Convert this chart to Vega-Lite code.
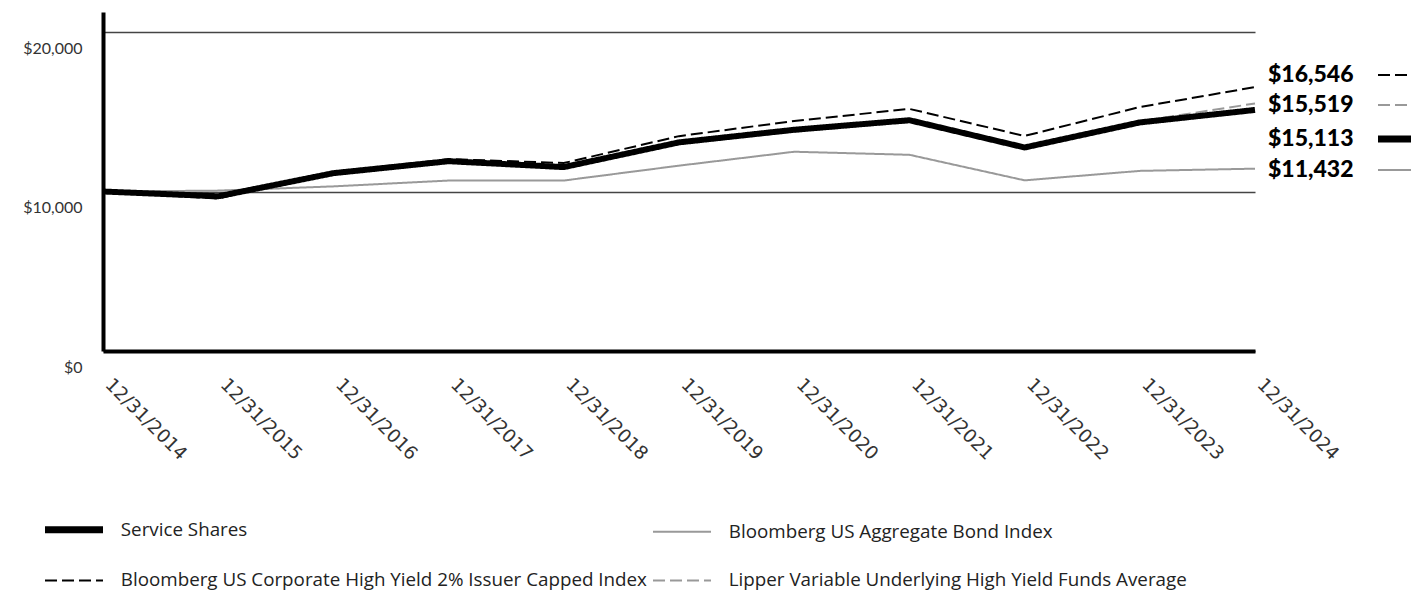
{
  "$schema": "https://vega.github.io/schema/vega-lite/v6.json",
  "width": 1152,
  "height": 339,
  "autosize": {"type": "none"},
  "padding": {"left": 103, "top": 12, "right": 156, "bottom": 241},
  "background": "white",
  "config": {
    "view": {"stroke": null},
    "font": "Lato",
    "legend": {
      "orient": "none",
      "legendX": -58,
      "legendY": 508,
      "direction": "horizontal",
      "columns": 2,
      "symbolType": "stroke",
      "symbolSize": 900,
      "symbolStrokeWidth": 1.5,
      "labelFont": "Open Sans",
      "labelFontSize": 18.8,
      "labelColor": "#222222",
      "labelOffset": 57,
      "labelLimit": 900,
      "columnPadding": 2,
      "rowPadding": 27,
      "padding": 0,
      "offset": 0
    }
  },
  "datasets": {
    "series": [
      {"date": "12/31/2014", "series": "Bloomberg US Aggregate Bond Index", "value": 10000},
      {"date": "12/31/2015", "series": "Bloomberg US Aggregate Bond Index", "value": 10055},
      {"date": "12/31/2016", "series": "Bloomberg US Aggregate Bond Index", "value": 10321},
      {"date": "12/31/2017", "series": "Bloomberg US Aggregate Bond Index", "value": 10687},
      {"date": "12/31/2018", "series": "Bloomberg US Aggregate Bond Index", "value": 10688},
      {"date": "12/31/2019", "series": "Bloomberg US Aggregate Bond Index", "value": 11620},
      {"date": "12/31/2020", "series": "Bloomberg US Aggregate Bond Index", "value": 12493},
      {"date": "12/31/2021", "series": "Bloomberg US Aggregate Bond Index", "value": 12301},
      {"date": "12/31/2022", "series": "Bloomberg US Aggregate Bond Index", "value": 10700},
      {"date": "12/31/2023", "series": "Bloomberg US Aggregate Bond Index", "value": 11292},
      {"date": "12/31/2024", "series": "Bloomberg US Aggregate Bond Index", "value": 11432},
      {"date": "12/31/2014", "series": "Lipper Variable Underlying High Yield Funds Average", "value": 10000},
      {"date": "12/31/2015", "series": "Lipper Variable Underlying High Yield Funds Average", "value": 9720},
      {"date": "12/31/2016", "series": "Lipper Variable Underlying High Yield Funds Average", "value": 11100},
      {"date": "12/31/2017", "series": "Lipper Variable Underlying High Yield Funds Average", "value": 11960},
      {"date": "12/31/2018", "series": "Lipper Variable Underlying High Yield Funds Average", "value": 11600},
      {"date": "12/31/2019", "series": "Lipper Variable Underlying High Yield Funds Average", "value": 13000},
      {"date": "12/31/2020", "series": "Lipper Variable Underlying High Yield Funds Average", "value": 13750},
      {"date": "12/31/2021", "series": "Lipper Variable Underlying High Yield Funds Average", "value": 14350},
      {"date": "12/31/2022", "series": "Lipper Variable Underlying High Yield Funds Average", "value": 12800},
      {"date": "12/31/2023", "series": "Lipper Variable Underlying High Yield Funds Average", "value": 14400},
      {"date": "12/31/2024", "series": "Lipper Variable Underlying High Yield Funds Average", "value": 15519},
      {"date": "12/31/2014", "series": "Bloomberg US Corporate High Yield 2% Issuer Capped Index", "value": 10000},
      {"date": "12/31/2015", "series": "Bloomberg US Corporate High Yield 2% Issuer Capped Index", "value": 9557},
      {"date": "12/31/2016", "series": "Bloomberg US Corporate High Yield 2% Issuer Capped Index", "value": 11194},
      {"date": "12/31/2017", "series": "Bloomberg US Corporate High Yield 2% Issuer Capped Index", "value": 12034},
      {"date": "12/31/2018", "series": "Bloomberg US Corporate High Yield 2% Issuer Capped Index", "value": 11784},
      {"date": "12/31/2019", "series": "Bloomberg US Corporate High Yield 2% Issuer Capped Index", "value": 13471},
      {"date": "12/31/2020", "series": "Bloomberg US Corporate High Yield 2% Issuer Capped Index", "value": 14421},
      {"date": "12/31/2021", "series": "Bloomberg US Corporate High Yield 2% Issuer Capped Index", "value": 15179},
      {"date": "12/31/2022", "series": "Bloomberg US Corporate High Yield 2% Issuer Capped Index", "value": 13482},
      {"date": "12/31/2023", "series": "Bloomberg US Corporate High Yield 2% Issuer Capped Index", "value": 15294},
      {"date": "12/31/2024", "series": "Bloomberg US Corporate High Yield 2% Issuer Capped Index", "value": 16546},
      {"date": "12/31/2014", "series": "Service Shares", "value": 10000},
      {"date": "12/31/2015", "series": "Service Shares", "value": 9700},
      {"date": "12/31/2016", "series": "Service Shares", "value": 11150},
      {"date": "12/31/2017", "series": "Service Shares", "value": 11900},
      {"date": "12/31/2018", "series": "Service Shares", "value": 11530},
      {"date": "12/31/2019", "series": "Service Shares", "value": 13080},
      {"date": "12/31/2020", "series": "Service Shares", "value": 13870},
      {"date": "12/31/2021", "series": "Service Shares", "value": 14470},
      {"date": "12/31/2022", "series": "Service Shares", "value": 12760},
      {"date": "12/31/2023", "series": "Service Shares", "value": 14330},
      {"date": "12/31/2024", "series": "Service Shares", "value": 15113}
    ],
    "ends": [
      {"date": "12/31/2024", "series": "Bloomberg US Corporate High Yield 2% Issuer Capped Index", "value": 16546, "labelY": 17305},
      {"date": "12/31/2024", "series": "Lipper Variable Underlying High Yield Funds Average", "value": 15519, "labelY": 15425},
      {"date": "12/31/2024", "series": "Service Shares", "value": 15113, "labelY": 13295},
      {"date": "12/31/2024", "series": "Bloomberg US Aggregate Bond Index", "value": 11432, "labelY": 11345}
    ]
  },
  "encoding": {
    "x": {
      "field": "date",
      "type": "ordinal",
      "title": null,
      "scale": {"type": "point", "padding": 0},
      "axis": {
        "labelAngle": 45,
        "labelAlign": "left",
        "labelBaseline": "middle",
        "labelFont": "DejaVu Sans",
        "labelFontSize": 18.5,
        "labelColor": "#333333",
        "labelPadding": 30,
        "labelOffset": 5,
        "ticks": false,
        "tickSize": 0,
        "domainColor": "#000000",
        "domainWidth": 4,
        "grid": false,
        "labelOverlap": false
      }
    }
  },
  "layer": [
    {
      "data": {"name": "series"},
      "transform": [{"filter": "datum.series !== 'Service Shares'"}],
      "mark": {"type": "line", "strokeCap": "butt", "strokeWidth": 2},
      "encoding": {
        "y": {
          "field": "value",
          "type": "quantitative",
          "title": null,
          "scale": {"domain": [0, 21254], "nice": false},
          "axis": {
            "values": [0, 10000, 20000],
            "format": "$,.0f",
            "labelFont": "Lato",
            "labelFontSize": 16,
            "labelColor": "#333333",
            "labelPadding": 21,
            "labelOffset": 16,
            "ticks": false,
            "tickSize": 0,
            "domainColor": "#000000",
            "domainWidth": 4,
            "grid": true,
            "gridColor": "#444444",
            "gridWidth": 1.5
          }
        },
        "color": {
          "field": "series", "type": "nominal", "title": null,
          "scale": {"domain": ["Service Shares", "Bloomberg US Aggregate Bond Index", "Bloomberg US Corporate High Yield 2% Issuer Capped Index", "Lipper Variable Underlying High Yield Funds Average"], "range": ["#000000", "#999999", "#000000", "#999999"]},
          "legend": {
            "encoding": {
              "symbols": {
                "size": {"value": 3364},
                "x": {"value": 29},
                "strokeWidth": {"value": {"expr": "datum.value === 'Service Shares' ? 7 : 2"}},
                "strokeDash": {"value": {"expr": "(indexof(datum.value, 'Corporate') >= 0 || indexof(datum.value, 'Lipper') >= 0) ? [13, 5] : [1, 0]"}}
              }
            }
          }
        },
        "strokeDash": {
          "field": "series", "type": "nominal", "legend": null,
          "scale": {"domain": ["Service Shares", "Bloomberg US Aggregate Bond Index", "Bloomberg US Corporate High Yield 2% Issuer Capped Index", "Lipper Variable Underlying High Yield Funds Average"], "range": [[1, 0], [1, 0], [12, 5], [12, 5]]}
        }
      }
    },
    {
      "data": {"name": "series"},
      "transform": [{"filter": "datum.series === 'Service Shares'"}],
      "mark": {"type": "line", "strokeCap": "butt", "strokeWidth": 6},
      "encoding": {
        "y": {"field": "value", "type": "quantitative"},
        "color": {"field": "series", "type": "nominal", "title": null},
        "strokeDash": {"field": "series", "type": "nominal", "legend": null}
      }
    },
    {
      "data": {"name": "ends"},
      "mark": {"type": "text", "align": "left", "baseline": "middle", "dx": 13, "font": "Lato", "fontSize": 23, "fontWeight": 900, "color": "#000000"},
      "encoding": {
        "y": {"field": "labelY", "type": "quantitative"},
        "text": {"field": "value", "type": "quantitative", "format": "$,.0f"}
      }
    },
    {
      "data": {"name": "ends"},
      "transform": [{"filter": "datum.series !== 'Service Shares'"}],
      "mark": {"type": "point", "shape": "M-1,0L1,0", "filled": false, "size": 1156, "xOffset": 140, "opacity": 1, "strokeWidth": 2},
      "encoding": {
        "y": {"field": "labelY", "type": "quantitative"},
        "color": {"field": "series", "type": "nominal", "legend": null},
        "strokeDash": {"field": "series", "type": "nominal", "legend": null}
      }
    },
    {
      "data": {"name": "ends"},
      "transform": [{"filter": "datum.series === 'Service Shares'"}],
      "mark": {"type": "point", "shape": "M-1,0L1,0", "filled": false, "size": 1156, "xOffset": 140, "opacity": 1, "strokeWidth": 7, "color": "#000000"},
      "encoding": {
        "y": {"field": "labelY", "type": "quantitative"}
      }
    }
  ]
}
